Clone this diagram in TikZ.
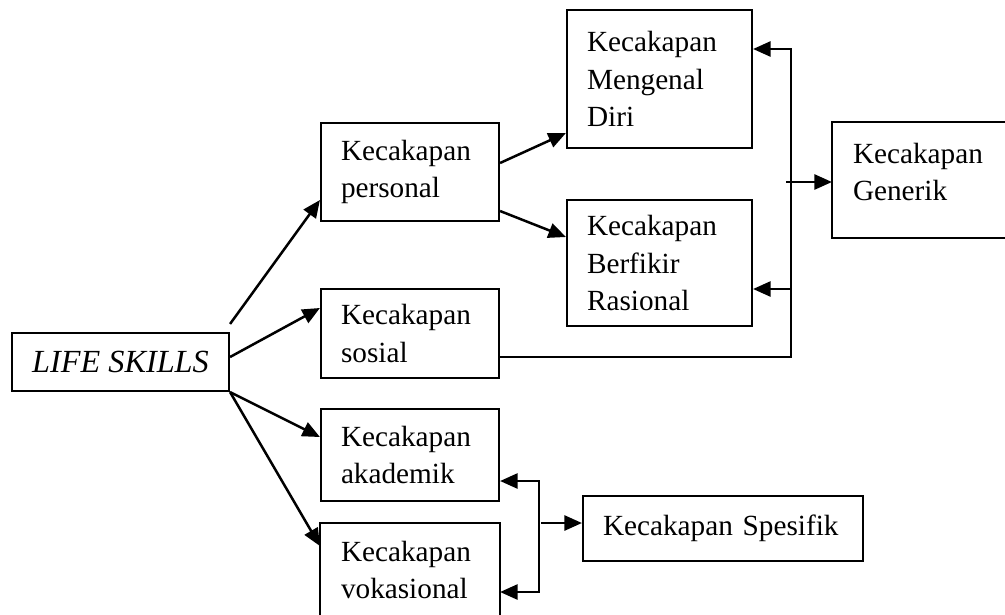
\documentclass[tikz,border=0pt]{standalone}
\usepackage{fontspec}
\setmainfont{Liberation Serif}
\usetikzlibrary{arrows.meta}

\begin{document}
\begin{tikzpicture}[x=0.4pt, y=-0.4pt,
    box/.style={draw, line width=0.85pt, inner sep=0pt, align=left,
      font=\fontsize{11.7}{15}\selectfont},
    openbox/.style={box, draw=none},
    edge/.style={line width=0.85pt},
    arr/.style={line width=1pt, -{Triangle[length=7pt,width=6pt]}},
    dblarr/.style={line width=1pt, {Triangle[length=7pt,width=6pt]}-{Triangle[length=7pt,width=6pt]}}]
    \useasboundingbox (0,0) rectangle (1005,614);
    \clip (0,0) rectangle (1005,614);
    \node[box, minimum width=86.8pt, minimum height=23.2pt,
      font=\fontsize{12.9}{15}\selectfont\itshape] (life) at (120.5,362) {LIFE SKILLS};
    \node[box, minimum width=71.2pt, text width=55.2pt, minimum height=39.2pt] (pers) at (410,172) {Kecakapan\\personal};
    \node[box, minimum width=71.2pt, text width=55.2pt, minimum height=35.6pt] (sos) at (410,333.5) {Kecakapan\\sosial};
    \node[box, minimum width=71.2pt, text width=55.2pt, minimum height=36.8pt] (akad) at (410,455) {Kecakapan\\akademik};
    \node[openbox, minimum width=71.2pt, text width=55.2pt, minimum height=36.8pt] (vok) at (410,570) {Kecakapan\\vokasional};
    \node[box, minimum width=74pt, text width=58pt, minimum height=55.2pt] (diri) at (659.5,79) {Kecakapan\\Mengenal\\Diri};
    \node[box, minimum width=74pt, text width=58pt, minimum height=50.4pt] (rasio) at (659.5,263) {Kecakapan\\Berfikir\\Rasional};
    \node[openbox, minimum width=90pt, text width=74pt, minimum height=45.6pt] (gen) at (945.5,172) {Kecakapan\\Generik};
    \node[box, minimum width=112pt, text width=96pt, minimum height=26pt] (spes) at (723,528.5) {Kecakapan Spesifik};
    % boxes cut by the page edge
    \draw[edge] ([yshift=-4pt]vok.south west) -- (vok.north west) -- (vok.north east) -- ([yshift=-4pt]vok.south east);
    \draw[edge] ([yshift=-3.2pt]gen.north east) -- ([yshift=-3.2pt]gen.north west)
      -- ([yshift=-3.2pt]gen.south west) -- ([yshift=-3.2pt]gen.south east);
    % life skills
    \draw[arr] ([yshift=3.2pt]life.north east) to ([yshift=-11.2pt]pers.west);
    \draw[arr] ([yshift=2pt]life.east) to ([yshift=10.2pt]sos.west);
    \draw[arr] (life.south east) to ([yshift=7.2pt]akad.west);
    \draw[arr] (life.south east) to ([yshift=9.6pt]vok.west);
    \draw[arr] ([yshift=3.6pt]pers.east) to ([yshift=-21.6pt]diri.west);
    \draw[arr] ([yshift=-15.6pt]pers.east) to ([yshift=10.4pt]rasio.west);
    % generik
    \coordinate (gtop) at (791,49);
    \coordinate (gbot) at (791,289);
    \coordinate (gjoin) at (786,182);
    \draw[arr] ([yshift=-9.4pt]sos.east) -| (gtop) -- (gtop -| diri.east);
    \draw[arr] (gbot) -- (gbot -| rasio.east);
    \draw[arr] (gjoin) -- (gjoin -| gen.west);
    % spesifik
    \coordinate (stop) at (539,481);
    \coordinate (sbot) at (539,592);
    \coordinate (sjoin) at (541,523);
    \draw[dblarr] (stop -| akad.east) -- (stop) -- (sbot) -- (sbot -| vok.east);
    \draw[arr] (sjoin) -- (sjoin -| spes.west);
  \end{tikzpicture}
\end{document}
